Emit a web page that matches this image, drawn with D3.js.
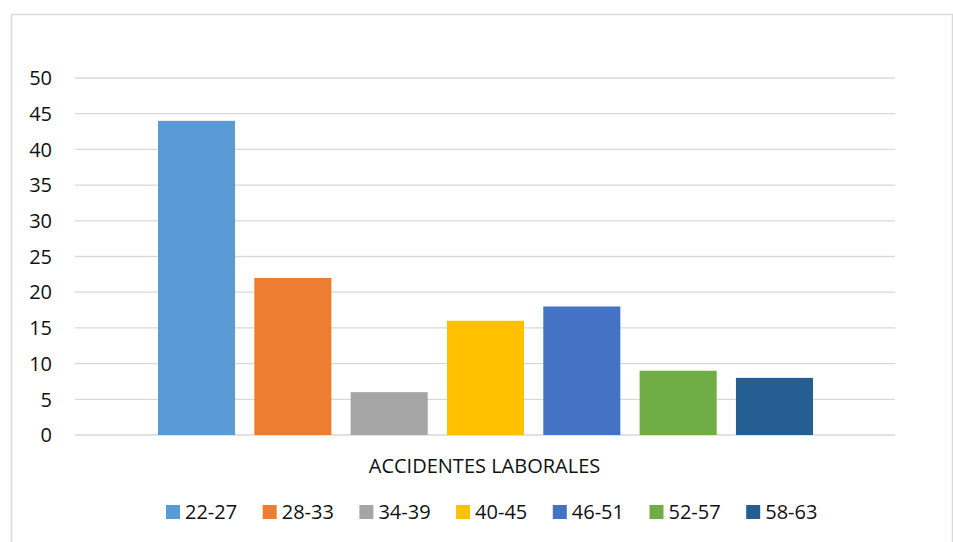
<!DOCTYPE html>
<html>
<head>
<meta charset="utf-8">
<script src="https://cdn.jsdelivr.net/npm/d3@7"></script>
<style>
  body { margin: 0; background: #fff; }
  text { font-family: "Open Sans", "Liberation Sans", sans-serif; fill: #111; }
</style>
</head>
<body>
<div id="chart"></div>
<script>
// data
var category = "ACCIDENTES LABORALES";
var series = ["22-27", "28-33", "34-39", "40-45", "46-51", "52-57", "58-63"];
var values = [44, 22, 6, 16, 18, 9, 8];
var colors = ["#5b9bd5", "#ed7d31", "#a5a5a5", "#ffc000", "#4472c4", "#70ad47", "#255e91"];
var yTicks = [0, 5, 10, 15, 20, 25, 30, 35, 40, 45, 50];

var width = 953, height = 542;
var plot = { left: 75, right: 895, top: 78, bottom: 435 };
var fontSize = "20px";

var svg = d3.select("#chart").append("svg")
    .attr("width", width)
    .attr("height", height);

// chart border
svg.append("rect")
    .attr("x", 11.5).attr("y", 14.5)
    .attr("width", 941).attr("height", 540)
    .attr("fill", "#fff")
    .attr("stroke", "#d9d9d9")
    .attr("stroke-width", 1.5);

var y = d3.scaleLinear().domain([0, 50]).range([plot.bottom, plot.top]);

// outer band for the single category, inner band for series
var x0 = d3.scaleBand().domain([category]).range([plot.left, plot.right]).paddingInner(0).paddingOuter(0);
var x1 = d3.scaleBand().domain(series)
    .range([158, 813])
    .paddingInner(0.2).paddingOuter(0);

// gridlines
svg.append("g")
    .selectAll("line")
    .data(yTicks)
    .enter()
    .append("line")
    .attr("x1", plot.left).attr("x2", plot.right)
    .attr("y1", function (d) { return y(d); })
    .attr("y2", function (d) { return y(d); })
    .attr("stroke", "#d9d9d9")
    .attr("stroke-width", 1.3);

// y labels
svg.append("g")
    .selectAll("text")
    .data(yTicks)
    .enter()
    .append("text")
    .attr("x", 52)
    .attr("y", function (d) { return y(d); })
    .attr("dy", "0.36em")
    .attr("text-anchor", "end")
    .style("font-size", fontSize)
    .text(function (d) { return d; });

// bars
svg.append("g")
    .selectAll("rect")
    .data(values)
    .enter()
    .append("rect")
    .attr("x", function (d, i) { return x1(series[i]); })
    .attr("y", function (d) { return y(d); })
    .attr("width", x1.bandwidth())
    .attr("height", function (d) { return y(0) - y(d); })
    .attr("fill", function (d, i) { return colors[i]; });

// category label
svg.append("text")
    .attr("x", x0(category) + x0.bandwidth() / 2 - 0.5)
    .attr("y", 466)
    .attr("dy", "0.36em")
    .attr("text-anchor", "middle")
    .style("font-size", fontSize)
    .text(category);

// legend
var legendStep = 96.7, legendX = 166, legendY = 512, box = 14;
var legend = svg.selectAll(".legend")
    .data(series)
    .enter()
    .append("g")
    .attr("class", "legend")
    .attr("transform", function (d, i) {
        return "translate(" + (legendX + i * legendStep) + "," + legendY + ")";
    });

legend.append("rect")
    .attr("x", 0).attr("y", -box / 2)
    .attr("width", box).attr("height", box)
    .attr("fill", function (d, i) { return colors[i]; });

legend.append("text")
    .attr("x", box + 5)
    .attr("y", 0)
    .attr("dy", "0.36em")
    .style("font-size", fontSize)
    .text(function (d) { return d; });
</script>
</body>
</html>
